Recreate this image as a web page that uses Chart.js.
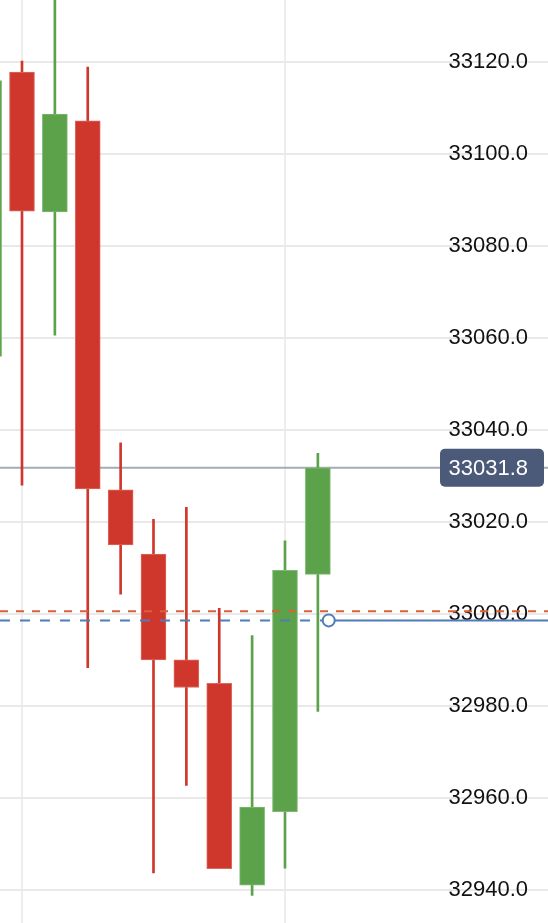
<!DOCTYPE html>
<html>
<head>
<meta charset="utf-8">
<script src="https://cdn.jsdelivr.net/npm/chart.js@4/dist/chart.umd.min.js"></script>
<style>
  html, body { margin: 0; padding: 0; background: #fff; }
  #wrap { width: 548px; height: 923px; position: relative; }
</style>
</head>
<body>
<div id="wrap"><canvas id="candles"></canvas></div>
<script>
// candle data (index, open, high, low, close)
const candleIndex = [0, 1, 2, 3, 4, 5, 6, 7, 8, 9, 10];
const opens  = [33056.0, 33117.8, 33087.4, 33107.2, 33027.0, 33013.0, 32990.0, 32984.9, 32941.0, 32957.0, 33008.6];
const highs  = [33117.0, 33120.2, 33136.0, 33118.9, 33037.2, 33020.6, 33023.2, 33001.2, 32995.3, 33015.9, 33034.9];
const lows   = [33055.0, 33028.0, 33060.6, 32988.3, 33004.3, 32943.7, 32962.7, 32944.6, 32938.8, 32944.7, 32978.8];
const closes = [33116.0, 33087.6, 33108.7, 33027.2, 33015.0, 32990.0, 32984.0, 32944.6, 32958.0, 33009.5, 33031.8];

// reference lines
const lastPrice = 33031.8;
const redLineValue = 33000.6;
const blueLineValue = 32998.6;
const blueMarkerX = 10.33;

// axis
const xMin = 0.331;
const xMax = 17.0;
const yMin = 32932.8;
const yMax = 33133.5;
const yTickValues = [32940, 32960, 32980, 33000, 33020, 33040, 33060, 33080, 33100, 33120];
const xGridValues = [1, 9];

const UP = "#5ba24b";
const DOWN = "#cf372c";
const UP_EDGE = "#7fb872";
const DOWN_EDGE = "#dc6a61";
const FONT = "'Liberation Sans', Arial, Helvetica, sans-serif";

const isUp = candleIndex.map((i) => closes[i] >= opens[i]);
const candleColors = isUp.map((u) => (u ? UP : DOWN));
const edgeColors = isUp.map((u) => (u ? UP_EDGE : DOWN_EDGE));

const lastPriceLabel = {
  id: "lastPriceLabel",
  afterDatasetsDraw(chart) {
    const ctx = chart.ctx;
    const y = chart.scales.y.getPixelForValue(lastPrice);
    ctx.save();
    ctx.fillStyle = "#4b5a78";
    ctx.beginPath();
    ctx.roundRect(440, y - 19, 104, 38, 5);
    ctx.fill();
    ctx.fillStyle = "#ffffff";
    ctx.font = "22px " + FONT;
    ctx.textAlign = "right";
    ctx.textBaseline = "middle";
    ctx.fillText(lastPrice.toFixed(1), 528, y + 1);
    ctx.restore();
  },
};

new Chart(document.getElementById("candles"), {
  type: "bar",
  data: {
    datasets: [
      {
        type: "line",
        data: [{ x: xMin, y: redLineValue }, { x: xMax, y: redLineValue }],
        borderColor: "#d9603a",
        borderWidth: 2,
        borderDash: [8, 8],
        pointRadius: 0,
        order: 1,
      },
      {
        type: "line",
        data: [
          { x: xMin, y: blueLineValue },
          { x: blueMarkerX, y: blueLineValue },
          { x: xMax, y: blueLineValue },
        ],
        borderColor: "#4f7db4",
        borderWidth: 2,
        segment: {
          borderDash: (ctx) => (ctx.p0DataIndex === 0 ? [10, 10] : []),
        },
        pointRadius: [0, 6, 0],
        pointBorderWidth: 2,
        pointBackgroundColor: "#ffffff",
        pointBorderColor: "#4f7db4",
        order: 0,
      },
      {
        type: "line",
        data: [{ x: xMin, y: lastPrice }, { x: xMax, y: lastPrice }],
        borderColor: "#a2abb8",
        borderWidth: 2,
        pointRadius: 0,
        order: 5,
      },
      {
        data: candleIndex.map((i) => ({ x: i, y: [opens[i], closes[i]] })),
        backgroundColor: candleColors,
        borderColor: edgeColors,
        borderWidth: 1,
        borderSkipped: false,
        barThickness: 25,
        grouped: false,
        order: 3,
      },
      {
        data: candleIndex.map((i) => ({ x: i, y: [lows[i], highs[i]] })),
        backgroundColor: candleColors,
        borderWidth: 0,
        barThickness: 2,
        grouped: false,
        order: 4,
      },
    ],
  },
  plugins: [lastPriceLabel],
  options: {
    responsive: true,
    maintainAspectRatio: false,
    animation: false,
    layout: { padding: 0 },
    plugins: {
      legend: { display: false },
      tooltip: { enabled: false },
    },
    scales: {
      x: {
        type: "linear",
        min: xMin,
        max: xMax,
        offset: false,
        afterBuildTicks: (s) => {
          s.ticks = xGridValues.map((v) => ({ value: v }));
        },
        afterFit: (s) => {
          s.height = 0;
        },
        ticks: { display: false },
        grid: { color: "#ededed", lineWidth: 2, drawTicks: false, offset: false },
        border: { display: false },
      },
      y: {
        position: "right",
        min: yMin,
        max: yMax,
        afterBuildTicks: (s) => {
          s.ticks = yTickValues.map((v) => ({ value: v }));
        },
        afterFit: (s) => {
          s.width = 0;
        },
        ticks: {
          mirror: true,
          padding: -20,
          color: "#111111",
          font: { family: FONT, size: 22 },
          callback: (v) => Number(v).toFixed(1),
        },
        grid: { color: "#e9e9e9", lineWidth: 2, drawTicks: false },
        border: { display: false },
      },
    },
  },
});
</script>
</body>
</html>
